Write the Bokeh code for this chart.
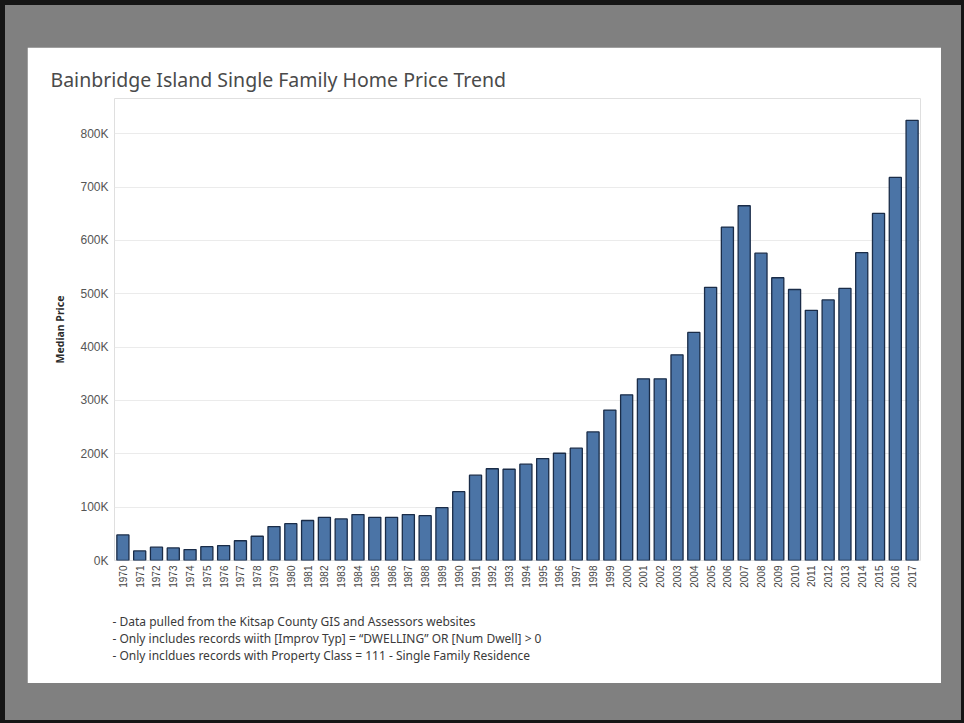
import math
from bokeh.plotting import figure
from bokeh.models import FactorRange, Range1d, FixedTicker, Title, Spacer
from bokeh.layouts import column, row
from bokeh.embed import file_html
from bokeh.resources import INLINE

# ---------------- data ----------------
years = [str(y) for y in range(1970, 2018)]
median_price = [
    48000, 18000, 25000, 23500, 20500, 26000, 28000, 37000, 45500, 63500,   # 1970-1979
    69000, 75000, 81000, 78000, 86000, 81000, 81000, 86000, 84000, 99000,   # 1980-1989
    129000, 160000, 172000, 171000, 180500, 191000, 201000, 210500, 241000, 282000,  # 1990-1999
    310500, 340500, 340500, 385500, 427500, 512000, 625000, 665000, 576000, 530000,  # 2000-2009
    508000, 469000, 488500, 510000, 577000, 650500, 718000, 825000,          # 2010-2017
]
y_ticks = [0, 100000, 200000, 300000, 400000, 500000, 600000, 700000, 800000]
y_tick_labels = ["0K", "100K", "200K", "300K", "400K", "500K", "600K", "700K", "800K"]

title_text = "Bainbridge Island Single Family Home Price Trend"
y_axis_title = "Median Price"
footnotes = [
    "- Data pulled from the Kitsap County GIS and Assessors websites",
    "- Only includes records wiith [Improv Typ] =  \u201cDWELLING\u201d OR [Num Dwell] > 0",
    "- Only incldues records with Property Class = 111 - Single Family Residence",
]

# ---------------- figure (white card) ----------------
CW, CH = 914, 636
p = figure(
    width=CW, height=CH,
    x_range=FactorRange(*years),
    y_range=Range1d(0, 866000),
    output_backend="svg", toolbar_location=None,
    min_border_left=87, min_border_right=21,
    min_border_top=51, min_border_bottom=123,
    title=title_text,
)
p.border_fill_color = "white"
p.background_fill_color = "white"
p.outline_line_color = None

p.title.align = "left"
p.title.offset = -64
p.title.standoff = 12
p.title.text_font = "Noto Sans"
p.title.text_font_size = "19.5px"
p.title.text_font_style = "normal"
p.title.text_color = "#4a4a4a"

# bars
p.vbar(x=years, top=median_price, width=0.72,
       fill_color="#4b74a6", line_color="#1a2c48", line_width=1.3)

# axes
p.ygrid.grid_line_color = "#ebebeb"
p.ygrid.grid_line_width = 1
p.xgrid.grid_line_color = None

p.yaxis.ticker = FixedTicker(ticks=y_ticks)
p.yaxis.major_label_overrides = {t: l for t, l in zip(y_ticks, y_tick_labels)}
p.yaxis.axis_line_color = None
p.yaxis.major_tick_line_color = None
p.yaxis.minor_tick_line_color = None
p.yaxis.major_tick_out = 0
p.yaxis.major_label_standoff = 6
p.yaxis.major_label_text_font = "Liberation Sans"
p.yaxis.major_label_text_font_size = "12px"
p.yaxis.major_label_text_color = "#555555"
p.yaxis.axis_label = y_axis_title
p.yaxis.axis_label_text_font = "Noto Sans"
p.yaxis.axis_label_text_font_style = "bold"
p.yaxis.axis_label_text_font_size = "10.5px"
p.yaxis.axis_label_text_color = "#2a2a2a"
p.yaxis.axis_label_standoff = 10

p.xaxis.axis_line_color = None
p.xaxis.major_tick_line_color = None
p.xaxis.major_tick_out = 0
p.xaxis.major_label_orientation = math.pi / 2
p.xaxis.major_label_standoff = 5
p.xaxis.major_label_text_font = "Liberation Sans"
p.xaxis.major_label_text_font_size = "10px"
p.xaxis.major_label_text_color = "#444444"

# footnotes below the chart (one multi-line title)
p.add_layout(Title(text="\n".join(footnotes), align="left", offset=-2, standoff=40,
                   text_font="Noto Sans", text_font_size="12px",
                   text_line_height=1.0,
                   text_font_style="normal", text_color="#3a3a3a"), "below")

# ---------------- gray frame around the card ----------------
layout = column(
    Spacer(width=964, height=47),
    row(Spacer(width=27, height=CH), p, Spacer(width=23, height=CH)),
    Spacer(width=964, height=40),
    styles={"background-color": "#808080",
            "box-shadow": "inset 5px 5px 0 0 #151515, inset -3px -3px 0 0 #151515"},
)

open("out.html", "w").write(file_html(layout, INLINE))
